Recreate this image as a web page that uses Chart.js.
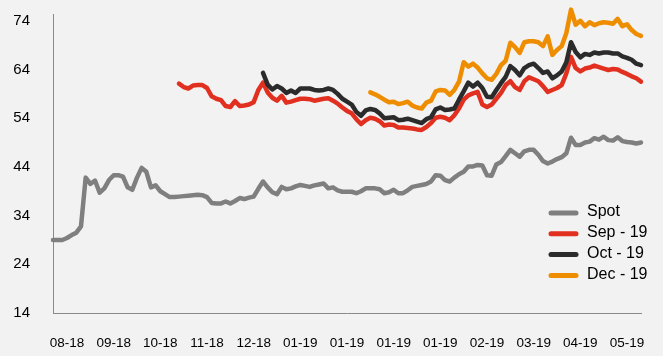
<!DOCTYPE html>
<html lang="en">
<head>
  <meta charset="UTF-8" />
  <title>Spot vs futures</title>
  <script src="https://cdn.jsdelivr.net/npm/chart.js"></script>
  <style>
    * {
      margin: 0;
      padding: 0;
      box-sizing: border-box;
    }
    body {
      background-color: #f2f2f2;
      font-family: 'Liberation Sans', Arial, sans-serif;
    }
    .wrap {
      position: relative;
      width: 663px;
      height: 356px;
    }
  </style>
</head>
<body>
  <div class="wrap">
    <canvas id="grafico"></canvas>
  </div>

  <script>
    const tickLabels = ['08-18', '09-18', '10-18', '11-18', '12-18', '01-19', '01-19',
      '01-19', '01-19', '02-19', '03-19', '04-19', '05-19'];
    const yTicks = [14, 24, 34, 44, 54, 64, 74];

    const spot = [
      29.0, 29.0, 29.0, 29.4, 30.0, 30.5, 31.8, 41.8, 40.5, 41.2,
      38.7, 39.6, 41.3, 42.3, 42.3, 42.0, 39.8, 39.3, 41.8, 43.8,
      43.0, 39.8, 40.2, 39.0, 38.4, 37.8, 37.8, 37.9, 38.0, 38.1,
      38.2, 38.3, 38.2, 37.8, 36.6, 36.5, 36.5, 36.9, 36.5, 37.0,
      37.6, 37.4, 37.7, 37.9, 39.5, 41.0, 39.8, 38.8, 38.4, 39.9,
      39.4, 39.6, 40.0, 40.3, 40.1, 39.9, 40.2, 40.4, 40.6, 39.6,
      39.8, 39.2, 38.9, 38.9, 38.9, 38.6, 39.0, 39.6, 39.6, 39.6,
      39.4, 38.6, 38.8, 39.3, 38.6, 38.6, 39.2, 39.9, 40.1, 40.3,
      40.5, 41.0, 42.3, 42.2, 41.3, 41.0, 41.8, 42.5, 43.0, 44.1,
      44.1, 44.4, 44.3, 42.3, 42.2, 44.5, 45.0, 46.2, 47.5, 46.8,
      46.1, 47.2, 47.5, 47.5, 46.5, 45.2, 44.7, 45.1, 45.6, 46.0,
      46.8, 50.0, 48.5, 48.5, 49.0, 49.2, 49.9, 49.6, 50.2, 49.5,
      49.4, 50.1, 49.3, 49.1, 49.0, 48.8, 49.0
    ];
    const sep19 = [
      61.1, 60.4, 60.1, 60.7, 60.8, 60.8, 60.2, 58.5, 58.0, 57.7,
      56.5, 56.3, 57.5, 56.5, 56.6, 56.8, 57.3, 59.8, 61.3, 59.3,
      58.2, 57.6, 58.6, 57.2, 57.4, 57.7, 58.0, 58.0, 57.9, 57.6,
      57.8, 58.0, 58.1, 57.6, 57.0, 56.2, 55.5, 55.0, 53.8, 52.8,
      53.6, 54.1, 53.9, 53.4, 52.5, 52.7, 52.6, 52.1, 52.1, 52.0,
      51.9, 51.7, 51.6, 52.2, 53.0, 54.1, 54.3, 54.1, 53.6, 54.6,
      56.0, 57.8, 58.7, 59.1, 59.4, 56.8, 56.3, 56.8, 58.0, 59.2,
      60.8, 61.6, 60.4, 59.8, 61.6, 62.4, 62.0, 61.6, 60.6, 59.4,
      59.8, 60.2, 60.8, 63.2, 66.6, 64.3, 63.6, 64.2, 64.4, 64.8,
      64.5, 64.2, 63.9, 64.1, 64.0, 63.5, 63.1, 62.6, 62.2, 61.5
    ];
    const oct19 = [
      63.3, 60.9, 59.9, 60.6, 60.1, 59.2, 59.7, 59.2, 60.1, 60.1,
      60.1, 59.8, 59.7, 59.8, 60.1, 59.8, 59.0, 58.0, 57.4, 56.8,
      55.3, 54.5, 55.6, 55.9, 55.7, 55.0, 54.0, 54.1, 54.2, 53.6,
      53.7, 53.9, 53.6, 53.3, 53.0, 53.8, 54.2, 55.8, 56.2, 55.7,
      55.8, 56.0, 57.8, 59.5, 61.3, 60.5, 61.3, 60.2, 58.4, 58.3,
      59.8, 61.2, 62.5, 64.7, 63.9, 62.8, 64.3, 64.9, 65.2, 64.3,
      63.3, 63.6, 62.2, 62.8, 63.6, 65.5, 69.6, 67.6, 66.5, 67.2,
      67.0, 67.5, 67.3, 67.5, 67.5, 67.3, 67.3, 66.7, 66.4, 66.0,
      65.2, 64.9
    ];
    const dec19 = [
      59.3, 58.9, 58.4, 57.8, 57.3, 57.4, 56.9, 57.1, 57.4, 56.6,
      56.2, 56.0, 57.2, 57.6, 59.5, 59.8, 59.7, 58.8, 59.8, 61.5,
      65.5, 64.6, 65.2, 64.4, 63.2, 62.2, 61.9, 63.1, 64.9, 65.8,
      69.5, 68.6, 67.4, 69.6, 69.8, 69.8, 69.6, 68.8, 70.8, 67.0,
      68.0, 68.8, 71.5, 76.3, 73.2, 74.0, 72.9, 73.7, 73.1, 73.5,
      73.7, 73.6, 73.4, 74.4, 72.9, 73.3, 72.1, 71.3, 70.9
    ];

    // all series end on the last date; shorter ones start later
    const N = spot.length;
    const alinhar = (arr) => new Array(N - arr.length).fill(null).concat(arr);

    // one label every 10 sessions, the rest left blank
    const xLabels = Array.from({ length: N }, (_, i) =>
      (i - 3) % 10 === 0 ? tickLabels[(i - 3) / 10] : '');

    const serie = (label, data, cor, ordem) => ({
      label: label,
      data: alinhar(data),
      borderColor: cor,
      backgroundColor: cor,
      borderWidth: 4.5,
      borderCapStyle: 'round',
      borderJoinStyle: 'round',
      pointRadius: 0,
      tension: 0,
      fill: false,
      clip: false,
      order: ordem,
    });

    // legenda desenhada à direita, dentro da área do gráfico
    const legendaLateral = {
      id: 'legendaLateral',
      afterDatasetsDraw(chart) {
        const ctx = chart.ctx;
        ctx.save();
        ctx.font = '16px "Liberation Sans", Arial, sans-serif';
        ctx.textBaseline = 'middle';
        ctx.textAlign = 'left';
        chart.data.datasets.forEach((ds, k) => {
          const y = 213 + k * 20.8;
          ctx.strokeStyle = ds.borderColor;
          ctx.lineWidth = 5;
          ctx.lineCap = 'round';
          ctx.beginPath();
          ctx.moveTo(551, y);
          ctx.lineTo(576, y);
          ctx.stroke();
          ctx.fillStyle = '#000';
          ctx.fillText(ds.label, 587, y - 1);
        });
        ctx.restore();
      },
    };

    const ctx = document.getElementById('grafico').getContext('2d');
    new Chart(ctx, {
      type: 'line',
      data: {
        labels: xLabels,
        datasets: [
          serie('Spot', spot, '#7f7f7f', 4),
          serie('Sep - 19', sep19, '#e1301f', 3),
          serie('Oct - 19', oct19, '#2b2b2b', 2),
          serie('Dec - 19', dec19, '#ef8d00', 1),
        ],
      },
      options: {
        responsive: true,
        maintainAspectRatio: false,
        animation: false,
        layout: {
          padding: { top: 14, right: 18, left: 0, bottom: 0 },
        },
        plugins: {
          legend: { display: false },
          tooltip: { enabled: false },
        },
        scales: {
          x: {
            type: 'category',
            grid: { display: false, drawTicks: false },
            border: { display: true, color: '#8a8a8a', width: 1 },
            ticks: {
              autoSkip: false,
              maxRotation: 0,
              minRotation: 0,
              padding: 22,
              color: '#000',
              font: { family: "'Liberation Sans', Arial, sans-serif", size: 13.5 },
            },
            afterFit(scale) {
              scale.height = 43;
            },
          },
          y: {
            min: 14,
            max: 75.4,
            grid: { display: false, drawTicks: false },
            border: { display: true, color: '#8a8a8a', width: 1 },
            ticks: {
              padding: 23,
              color: '#000',
              font: { family: "'Liberation Sans', Arial, sans-serif", size: 15 },
            },
            afterBuildTicks(scale) {
              scale.ticks = yTicks.map((v) => ({ value: v }));
            },
            afterFit(scale) {
              scale.width = 53;
              scale.paddingTop = 0;
              scale.paddingBottom = 0;
            },
          },
        },
      },
      plugins: [legendaLateral],
    });
  </script>
</body>
</html>
